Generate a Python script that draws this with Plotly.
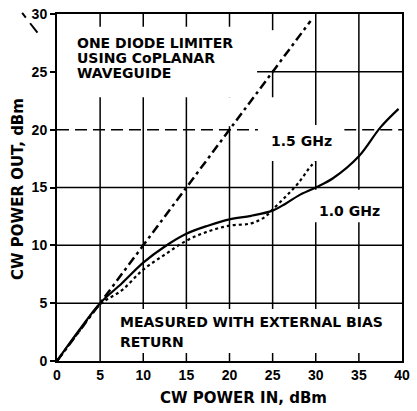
import plotly.graph_objects as go

# CW power in (dBm) -> CW power out (dBm)
ideal_x = [0, 29.4]
ideal_y = [0, 29.4]

ghz10_x = [0, 2.5, 5, 7.5, 10, 12.5, 15, 17.5, 20, 22.5, 25, 26.5, 28, 30, 32, 35, 37.5, 39.6]
ghz10_y = [0, 2.6, 5.0, 6.7, 8.5, 9.9, 11.0, 11.7, 12.25, 12.55, 13.0, 13.6, 14.3, 15.0, 15.8, 17.7, 20.2, 21.8]

ghz15_x = [0, 2.5, 5, 7.5, 10, 12.5, 15, 17.5, 20, 22.5, 24, 25, 26.5, 28, 29.5, 30]
ghz15_y = [0, 2.5, 4.9, 6.1, 7.9, 9.2, 10.4, 11.2, 11.7, 11.9, 12.4, 13.1, 14.2, 15.4, 16.9, 17.2]

x_ticks = [0, 5, 10, 15, 20, 25, 30, 35, 40]
y_ticks = [0, 5, 10, 15, 20, 25, 30]

FONT = "DejaVu Sans"
TICKFONT = "Liberation Sans"

fig = go.Figure()
fig.add_scatter(x=ideal_x, y=ideal_y, mode="lines",
                line=dict(color="black", width=2.5, dash="9px,4px,3px,4px"))
fig.add_scatter(x=ghz15_x, y=ghz15_y, mode="lines", line_shape="spline",
                line=dict(color="black", width=2.2, dash="3px,3px"))
fig.add_scatter(x=ghz10_x, y=ghz10_y, mode="lines", line_shape="spline",
                line=dict(color="black", width=2.2))

shapes = []
# vertical grid
for v in x_ticks[1:-1]:
    shapes.append(dict(type="line", x0=v, x1=v, y0=0, y1=30, layer="below",
                       line=dict(color="black", width=1.5)))
# horizontal grid
for v in y_ticks[1:-1]:
    if v == 20:
        for a, b in [(0, 23.3), (33.3, 40)]:
            shapes.append(dict(type="line", x0=a, x1=b, y0=v, y1=v, layer="below",
                               line=dict(color="black", width=1.5, dash="12px,6px")))
    elif v == 25:
        shapes.append(dict(type="line", x0=23.2, x1=40, y0=v, y1=v, layer="below",
                           line=dict(color="black", width=1.5)))
    else:
        shapes.append(dict(type="line", x0=0, x1=40, y0=v, y1=v, layer="below",
                           line=dict(color="black", width=1.5)))

# white patches where the text sits over the grid
for x0, x1, y0, y1 in [(0.3, 22, 22.8, 28.9), (18, 21, 20.3, 22.8), (24, 26, 25.15, 28.6),
                       (24, 26, 20.4, 22.8), (23.3, 33.3, 17.3, 20.4),
                       (29.5, 38, 12.0, 14.8), (6, 38, 0.7, 4.5)]:
    shapes.append(dict(type="rect", x0=x0, x1=x1, y0=y0, y1=y1, layer="below",
                       fillcolor="white", line=dict(width=0)))

# stray dash-dot fragment at upper left of the scan
shapes.append(dict(type="line", xref="paper", yref="paper", x0=-0.101, y0=1.003,
                   x1=-0.038, y1=0.922, line=dict(color="black", width=2, dash="6px,7px,12px,30px")))

fig.update_layout(shapes=shapes)

txt = dict(family=FONT, size=14, color="black", weight="bold")
notes = [
    ("ONE DIODE LIMITER", 2.1, 27.5, "left"),
    ("USING CoPLANAR", 2.1, 26.2, "left"),
    ("WAVEGUIDE", 2.1, 24.9, "left"),
    ("1.5 GHz", 28.3, 19.0, "center"),
    ("1.0 GHz", 33.9, 13.0, "center"),
    ("MEASURED WITH EXTERNAL BIAS", 7.07, 3.37, "left"),
    ("RETURN", 7.07, 1.64, "left"),
]
for t, x, y, anc in notes:
    fig.add_annotation(text=t, x=x, y=y, xanchor=anc, yanchor="middle",
                       showarrow=False, font=txt)

fig.add_annotation(text="CW POWER IN, dBm", xref="paper", yref="paper", x=0.542, y=-0.1066,
                   xanchor="center", yanchor="middle", showarrow=False,
                   font=dict(family=FONT, size=15, color="black", weight="bold"))
fig.add_annotation(text="CW POWER OUT, dBm", xref="paper", yref="paper", x=-0.113, y=0.496,
                   xanchor="center", yanchor="middle", textangle=-90, showarrow=False,
                   font=dict(family=FONT, size=15, color="black", weight="bold"))

fig.update_xaxes(range=[0, 40], tickvals=x_ticks, showgrid=False, zeroline=False,
                 showline=True, linecolor="black", linewidth=2, mirror=True,
                 ticklabeloverflow="allow",
                 tickfont=dict(family=TICKFONT, size=14, color="black", weight="bold"))
fig.update_yaxes(range=[0, 30], tickvals=y_ticks, showgrid=False, zeroline=False,
                 showline=True, linecolor="black", linewidth=2, mirror=True,
                 ticks="outside", ticklen=5, tickwidth=2, tickcolor="black",
                 ticklabeloverflow="allow",
                 tickfont=dict(family=TICKFONT, size=14, color="black", weight="bold"))

fig.update_layout(width=417, height=411, margin=dict(l=57, r=15, t=14, b=50, autoexpand=False),
                  plot_bgcolor="white", paper_bgcolor="white", showlegend=False)

# drop the default 8px body margin so the figure fills the window
fig.write_html("out.html", config={"displayModeBar": False},
               post_script="document.body.style.margin='0px';")
